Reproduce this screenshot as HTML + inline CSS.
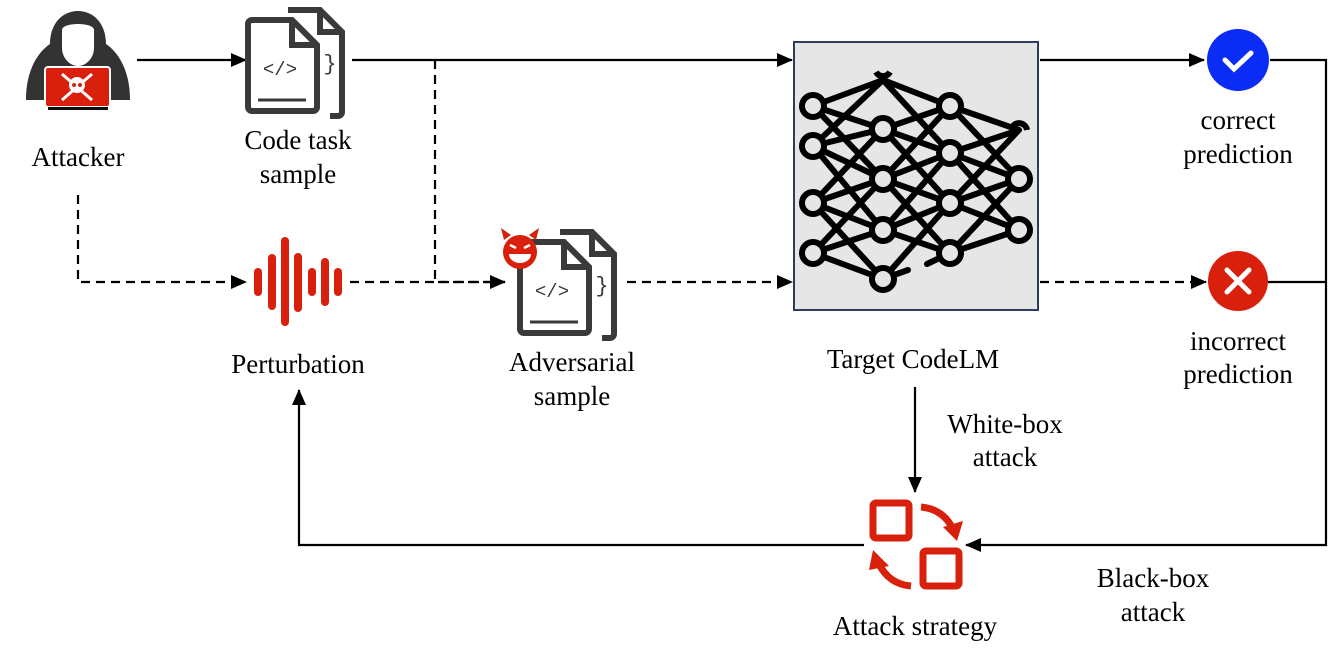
<!DOCTYPE html>
<html><head><meta charset="utf-8"><style>
html,body{margin:0;padding:0;background:#fff}
svg{display:block}
text{font-family:"Liberation Serif",serif;font-size:27px;fill:#000;text-anchor:middle}
</style></head><body>
<svg width="1329" height="661" viewBox="0 0 1329 661" xmlns="http://www.w3.org/2000/svg">
<defs>
<marker id="ah" markerWidth="16" markerHeight="14" refX="15" refY="7" orient="auto" markerUnits="userSpaceOnUse">
<path d="M0,0 L16,7 L0,14 Z" fill="#000"/></marker>
<g id="doc">
<path d="M40,-10 h32 l22,22 v80 a4,4 0 0 1 -4,4 h-8" fill="none" stroke="#3a3a3a" stroke-width="6"/>
<path d="M72,-10 v22 h22" fill="none" stroke="#3a3a3a" stroke-width="6"/>
<text x="82" y="50" style="font-family:'Liberation Mono',monospace;font-size:22px;fill:#3a3a3a">}</text>
<path d="M4,0 h40 l25,25 v62 a4,4 0 0 1 -4,4 h-61 a4,4 0 0 1 -4,-4 v-83 a4,4 0 0 1 4,-4z" fill="#fff" stroke="#3a3a3a" stroke-width="6"/>
<path d="M44,0 v25 h25" fill="none" stroke="#3a3a3a" stroke-width="6"/>
<text x="32" y="55" style="font-family:'Liberation Mono',monospace;font-size:19px;fill:#3a3a3a">&lt;/&gt;</text>
<line x1="10" y1="80" x2="58" y2="80" stroke="#3a3a3a" stroke-width="3"/>
</g>
</defs>
<g stroke="#000" stroke-width="2.2" fill="none">
<line x1="137" y1="60" x2="246" y2="60" marker-end="url(#ah)"/>
<line x1="352" y1="60" x2="792" y2="60" marker-end="url(#ah)"/>
<path d="M435,60 V282 H505" stroke-dasharray="9,6" marker-end="url(#ah)"/>
<path d="M78,195 V282 H246" stroke-dasharray="9,6" marker-end="url(#ah)"/>
<line x1="350" y1="282" x2="505" y2="282" stroke-dasharray="9,6"/>
<line x1="627" y1="282" x2="792" y2="282" stroke-dasharray="9,6" marker-end="url(#ah)"/>
<line x1="1040" y1="60" x2="1204" y2="60" marker-end="url(#ah)"/>
<line x1="1040" y1="282" x2="1206" y2="282" stroke-dasharray="9,6" marker-end="url(#ah)"/>
<path d="M1270,60 H1326 V545 H966" marker-end="url(#ah)"/>
<line x1="1268" y1="282" x2="1326" y2="282"/>
<line x1="915" y1="387" x2="915" y2="492" marker-end="url(#ah)"/>
<path d="M864,545 H299 V390" marker-end="url(#ah)"/>
</g>
<!-- attacker -->
<path d="M26,100 C26,70 38,52 50,44 C50,24 62,11 78,11 C94,11 106,24 106,44 C118,52 130,70 130,100 Z" fill="#333"/>
<path d="M62,30 C62,22 94,22 94,30 L94,48 C94,58 86,66 78,66 C70,66 62,58 62,48 Z" fill="#fff"/>
<rect x="45" y="67" width="65" height="40" rx="3" fill="#d8200c" stroke="#fff" stroke-width="2"/>
<rect x="48" y="107" width="60" height="3" fill="#111"/>
<g stroke="#fff" stroke-width="3"><line x1="62" y1="74" x2="92" y2="100"/><line x1="92" y1="74" x2="62" y2="100"/></g>
<circle cx="77" cy="85" r="8" fill="#fff"/><circle cx="74" cy="85" r="2" fill="#d8200c"/><circle cx="80" cy="85" r="2" fill="#d8200c"/>
<use href="#doc" x="248" y="20"/>
<use href="#doc" x="520" y="242"/>
<!-- devil -->
<circle cx="520" cy="252" r="17" fill="#d8200c"/>
<path d="M504,240 l-3,-12 l10,7 z M536,240 l3,-12 l-10,7 z" fill="#d8200c"/>
<path d="M509,254 h22 a11,9 0 0 1 -22,0z" fill="#fff"/>
<path d="M510,245 l6,3 M530,245 l-6,3" stroke="#fff" stroke-width="2.5"/>
<!-- perturbation bars -->
<g stroke="#d8200c" stroke-width="8" stroke-linecap="round">
<line x1="258" y1="272" x2="258" y2="292"/>
<line x1="272" y1="258" x2="272" y2="306"/>
<line x1="285" y1="241" x2="285" y2="322"/>
<line x1="298" y1="257" x2="298" y2="308"/>
<line x1="312" y1="272" x2="312" y2="292"/>
<line x1="325" y1="262" x2="325" y2="302"/>
<line x1="338" y1="272" x2="338" y2="292"/>
</g>
<!-- model box -->
<rect x="794" y="42" width="244" height="268" fill="#e6e6e6" stroke="#2c3e5c" stroke-width="2"/>
<g stroke="#000" stroke-width="6" stroke-linecap="round" fill="none">
<path d="M813,106 L883,80 M813,106 L883,129 M813,106 L883,179 M813,146 L883,80 M813,146 L883,129 M813,146 L883,179 M813,146 L883,230 M813,203 L883,129 M813,203 L883,179 M813,203 L883,230 M813,203 L883,279 M813,253 L883,179 M813,253 L883,230 M813,253 L883,279"/>
<path d="M883,80 L950,106 M883,80 L950,153 M883,129 L950,106 M883,129 L950,153 M883,129 L950,203 M883,179 L950,106 M883,179 L950,153 M883,179 L950,203 M883,179 L950,253 M883,230 L950,153 M883,230 L950,203 M883,230 L950,253 M883,279 L950,203 M883,279 L908,270 M927,264 L950,253"/>
<path d="M950,106 L1019,130 M950,106 L1019,179 M950,153 L1019,130 M950,153 L1019,179 M950,153 L1019,230 M950,203 L1019,130 M950,203 L1019,179 M950,203 L1019,230 M950,253 L1019,179 M950,253 L1019,230"/>
</g>
<g stroke="#000" stroke-width="6" fill="#e6e6e6">
<circle cx="813" cy="106" r="11"/><circle cx="813" cy="146" r="11"/><circle cx="813" cy="203" r="11"/><circle cx="813" cy="253" r="11"/>
<circle cx="883" cy="129" r="11"/><circle cx="883" cy="179" r="11"/><circle cx="883" cy="230" r="11"/><circle cx="883" cy="279" r="11"/>
<circle cx="950" cy="106" r="11"/><circle cx="950" cy="153" r="11"/><circle cx="950" cy="203" r="11"/><circle cx="950" cy="253" r="11"/>
<circle cx="1019" cy="179" r="11"/><circle cx="1019" cy="230" r="11"/>
</g>
<path d="M876,72 a8,8 0 0 0 14,0" stroke="#000" stroke-width="6" fill="none"/>
<path d="M1013,126 a8,8 0 0 1 14,4" stroke="#000" stroke-width="6" fill="none"/>
<circle cx="1238" cy="60" r="31" fill="#0a2cf5"/>
<path d="M1225,60 l9,9 l17,-16" stroke="#fff" stroke-width="5" fill="none" stroke-linecap="round"/>
<circle cx="1238" cy="281" r="30" fill="#d8200c"/>
<path d="M1227,270 l22,22 M1249,270 l-22,22" stroke="#fff" stroke-width="5" stroke-linecap="round"/>
<g fill="none" stroke="#d8200c" stroke-width="7">
<rect x="873" y="503" width="36" height="35" rx="3"/>
<rect x="923" y="551" width="36" height="35" rx="3"/>
<path d="M921,507 q22,2 32,22"/>
<path d="M911,586 q-22,-2 -32,-22"/>
</g>
<path d="M943,527 l20,-6 l-6,20 z" fill="#d8200c"/>
<path d="M889,566 l-20,4 l4,-20 z" fill="#d8200c"/>
<text x="78" y="166">Attacker</text>
<text x="298" y="149">Code task</text>
<text x="298" y="183">sample</text>
<text x="298" y="373">Perturbation</text>
<text x="572" y="371">Adversarial</text>
<text x="572" y="405">sample</text>
<text x="913" y="368">Target CodeLM</text>
<text x="1238" y="129">correct</text>
<text x="1238" y="163">prediction</text>
<text x="1238" y="350">incorrect</text>
<text x="1238" y="383">prediction</text>
<text x="1005" y="433">White-box</text>
<text x="1005" y="466">attack</text>
<text x="1153" y="587">Black-box</text>
<text x="1153" y="621">attack</text>
<text x="915" y="635">Attack strategy</text>
</svg>
</body></html>
